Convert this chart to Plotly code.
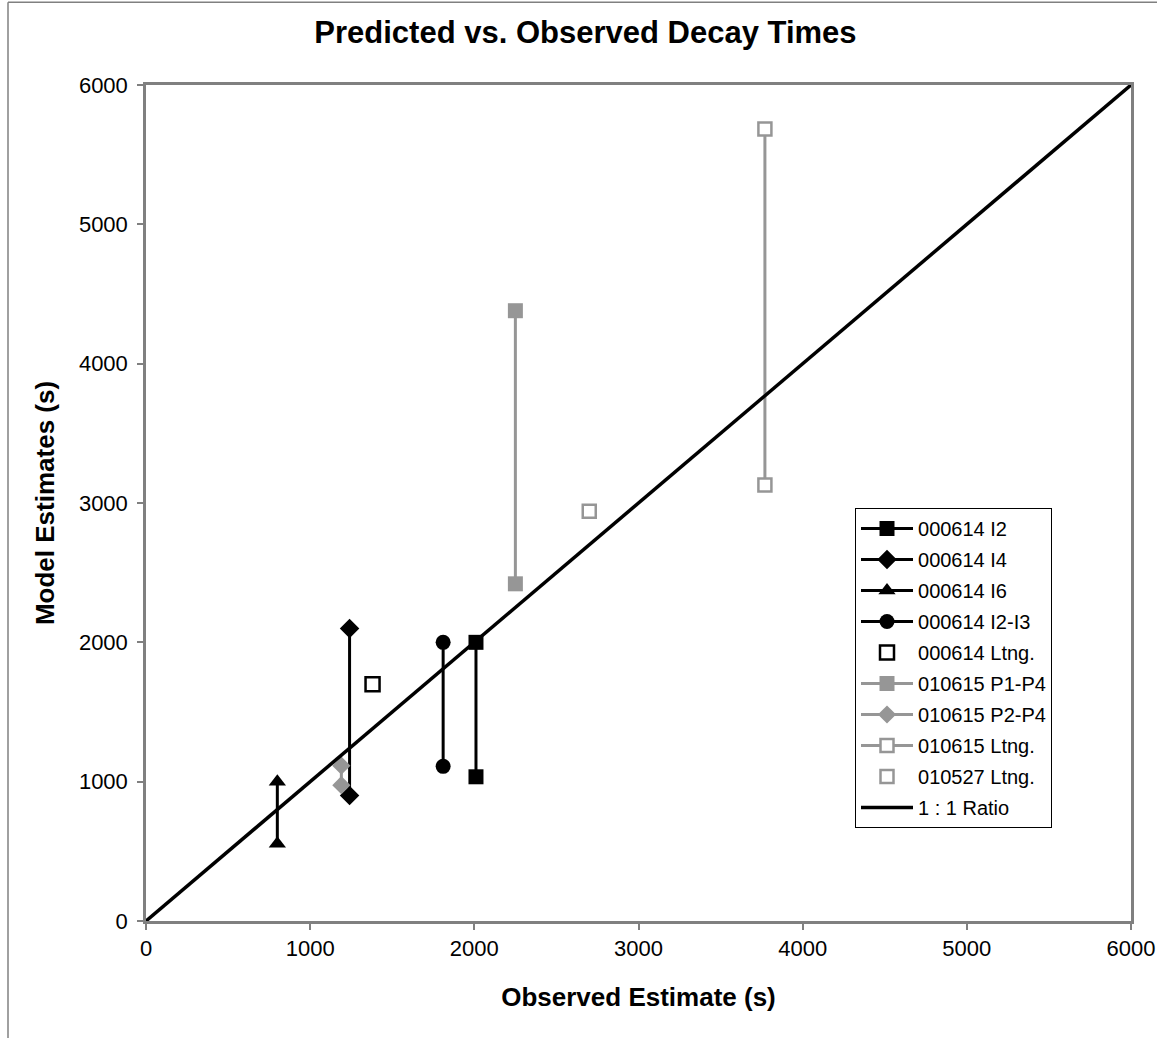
import plotly.graph_objects as go

# ---- data ----
i2_x = [2010, 2010];   i2_y = [2000, 1035]
i4_x = [1240, 1240];   i4_y = [2100, 900]
i6_x = [800, 800];     i6_y = [1000, 555]
i23_x = [1810, 1810];  i23_y = [2000, 1110]
l614_x = [1380];       l614_y = [1700]
p14_x = [2250, 2250];  p14_y = [4380, 2420]
p24_x = [1190, 1190];  p24_y = [1115, 975]
l615_x = [3770, 3770]; l615_y = [5685, 3130]
l527_x = [2700];       l527_y = [2940]
ratio_x = [0, 6000];   ratio_y = [0, 6000]
x_ticks = [0, 1000, 2000, 3000, 4000, 5000, 6000]
y_ticks = [0, 1000, 2000, 3000, 4000, 5000, 6000]

BLACK = "#000000"
GRAY = "#969696"
FONT = "Arial, Liberation Sans, sans-serif"

fig = go.Figure()

def add(name, x, y, color, symbol, size, mode="lines+markers", open_=False, lw=3):
    if open_:
        marker = dict(symbol=symbol, size=size, color="white",
                      line=dict(color=color, width=2.5))
    else:
        marker = dict(symbol=symbol, size=size, color=color,
                      line=dict(color=color, width=0))
    fig.add_trace(go.Scatter(x=x, y=y, name=name, mode=mode, legendgroup=name,
                             line=dict(color=color, width=lw),
                             marker=marker))

add("000614 I2", i2_x, i2_y, BLACK, "square", 15)
add("000614 I4", i4_x, i4_y, BLACK, "diamond", 15)
add("000614 I6", i6_x, i6_y, BLACK, "triangle-up", 15)
add("000614 I2-I3", i23_x, i23_y, BLACK, "circle", 15)
add("000614 Ltng.", l614_x, l614_y, BLACK, "square", 14, mode="markers", open_=True)
add("010615 P1-P4", p14_x, p14_y, GRAY, "square", 15)
add("010615 P2-P4", p24_x, p24_y, GRAY, "diamond", 14)
add("010615 Ltng.", l615_x, l615_y, GRAY, "square", 13, open_=True)
add("010527 Ltng.", l527_x, l527_y, GRAY, "square", 13, mode="markers", open_=True)
fig.add_trace(go.Scatter(x=ratio_x, y=ratio_y, name="1 : 1 Ratio", mode="lines",
                         legendgroup="1 : 1 Ratio",
                         line=dict(color=BLACK, width=3.5)))

axis_common = dict(
    range=[0, 6000], showgrid=False, zeroline=False, automargin=False,
    showline=True, linecolor="#808080", linewidth=2.5, mirror=True,
    ticks="outside", ticklen=6, tickcolor="#808080", tickwidth=1.5,
    tickfont=dict(family=FONT, size=22, color="black"),
)

fig.update_layout(
    width=1157, height=1038, autosize=False,
    margin=dict(l=146, r=26, t=85, b=117, autoexpand=False),
    paper_bgcolor="white", plot_bgcolor="white",
    title=dict(text="<b>Predicted vs. Observed Decay Times</b>",
               font=dict(family=FONT, size=31, color="black"),
               x=0.506, xref="container", y=0.969, yref="container",
               xanchor="center", yanchor="middle"),
    xaxis=dict(**axis_common, tickvals=x_ticks,
               title=dict(text="<b>Observed Estimate (s)</b>",
                          font=dict(family=FONT, size=26, color="black"),
                          standoff=28)),
    yaxis=dict(**axis_common, tickvals=y_ticks, ticklabelstandoff=5,
               title=dict(text="<b>Model Estimates (s)</b>",
                          font=dict(family=FONT, size=26, color="black"),
                          standoff=17)),
    legend=dict(x=0.7198, y=0.494, xanchor="left", yanchor="top",
                bgcolor="white", bordercolor="black", borderwidth=1,
                font=dict(family=FONT, size=20, color="black"),
                traceorder="grouped", tracegroupgap=2, itemwidth=52),
    showlegend=True,
)

# outer chart border (left and top edges)
fig.add_shape(type="line", xref="paper", yref="paper",
              x0=-0.1401, x1=-0.1401, y0=-0.14, y1=1.099,
              line=dict(color="#808080", width=1.5))
fig.add_shape(type="line", xref="paper", yref="paper",
              x0=-0.1401, x1=1.1, y0=1.099, y1=1.099,
              line=dict(color="#808080", width=1.5))

fig.write_html("out.html", config={"displayModeBar": False, "responsive": False},
               post_script="document.body.style.margin='0px';")
